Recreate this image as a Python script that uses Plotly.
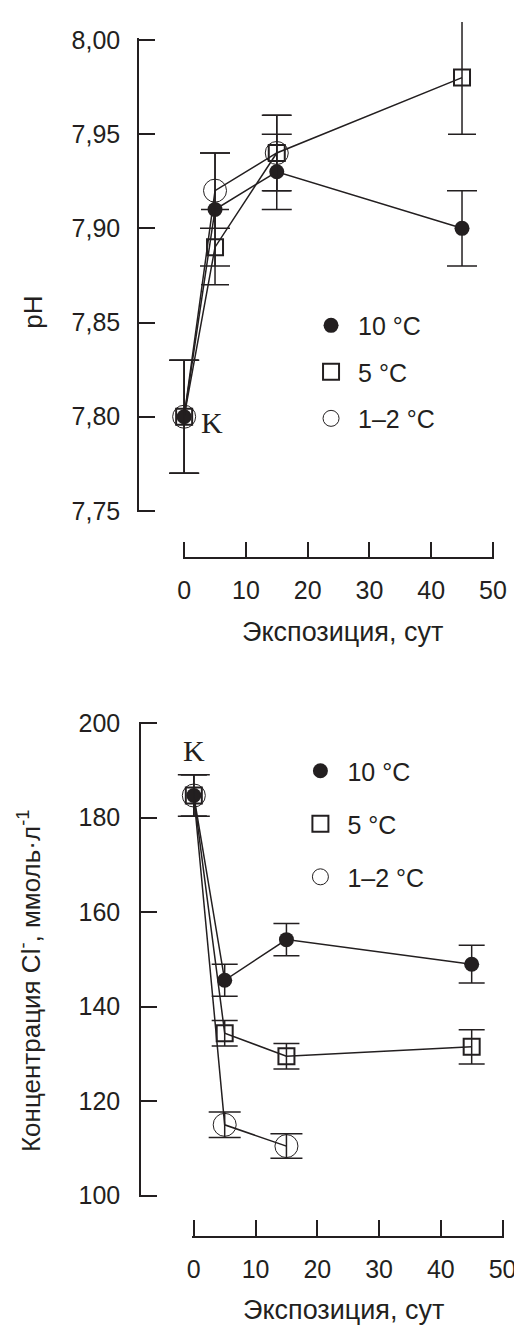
import plotly.graph_objects as go

# ---------------- data ----------------
days = [0, 5, 15, 45]
days_cold = [0, 5, 15]

ph_10 = [7.80, 7.91, 7.93, 7.90]
ph_10_err = [0.03, 0.03, 0.02, 0.02]
ph_5 = [7.80, 7.89, 7.94, 7.98]
ph_5_err = [0.03, 0.02, 0.02, 0.03]
ph_1 = [7.80, 7.92, 7.94]
ph_1_err = [0.03, 0.02, 0.02]

cl_10 = [184.7, 145.6, 154.2, 149.0]
cl_10_err = [4.4, 3.4, 3.4, 4.0]
cl_5 = [184.7, 134.4, 129.5, 131.5]
cl_5_err = [4.4, 2.7, 2.7, 3.6]
cl_1 = [184.7, 115.0, 110.5]
cl_1_err = [4.4, 2.7, 2.6]

series_names = ["10 °C", "5 °C", "1–2 °C"]
x_ticks = [0, 10, 20, 30, 40, 50]
ph_ticks = [7.75, 7.80, 7.85, 7.90, 7.95, 8.00]
cl_ticks = [100, 120, 140, 160, 180, 200]

x_title = "Экспозиция, сут"
ph_title = "pH"
cl_title = "Концентрация Cl<sup>-</sup>, ммоль·л<sup>-1</sup>"
control_label = "K"

# ---------------- styles / layout geometry ----------------
INK = "#231f20"
SANS = "Liberation Sans, Arial, sans-serif"
SERIF = "Liberation Serif, Times New Roman, serif"
OFF = 8                      # default page body margin
W, H = 522 - OFF, 1338 - OFF


def px(x):
    return (x - OFF) / W


def py(y):
    return 1 - (y - OFF) / H


def extend(r0, r1, p0, p1, q0, q1):
    """axis range [r0,r1] shown over pixels p0..p1 -> range over pixels q0..q1"""
    k = (r1 - r0) / (p1 - p0)
    return [r0 + (q0 - p0) * k, r0 + (q1 - p0) * k]


# axis frames (page pixels): value ends of each axis
TOP_X = (185, 504.3)
TOP_Y = (507.3, 27.3)        # bottom, top
BOT_X = (195, 514.3)
BOT_Y = (1205.2, 723.7)
E = 1.6                      # tiny overhang so end ticks are kept
# larger invisible data frames so that caps/markers are not clipped
TOP_DX = (140, 521)
TOP_DY = (545, 9)
BOT_DX = (145, 521)
BOT_DY = (1235, 690)

styles = [
    dict(symbol="circle", size=15, color=INK, line=dict(width=0, color=INK)),
    dict(symbol="square-open", size=16, color=INK, line=dict(width=2, color=INK)),
    dict(symbol="circle-open", size=23, color=INK, line=dict(width=1, color=INK)),
]

fig = go.Figure()


def add_series(xs, ys, errs, st, name, xa, ya, legend, capw):
    fig.add_trace(go.Scatter(
        x=xs, y=ys, mode="lines", line=dict(color=INK, width=1.5),
        xaxis=xa, yaxis=ya, showlegend=False, hoverinfo="skip"))
    fig.add_trace(go.Scatter(
        x=xs, y=ys, mode="markers", marker=st, name=name,
        error_y=dict(type="data", array=errs, visible=True, color=INK,
                     thickness=1.5, width=capw),
        xaxis=xa, yaxis=ya, legend=legend, legendgroup=legend + name,
        cliponaxis=False))


# empty traces that carry the visible axis frames (drawn first, underneath)
fig.add_trace(go.Scatter(x=[], y=[], xaxis="x", yaxis="y", showlegend=False, hoverinfo="skip"))
fig.add_trace(go.Scatter(x=[], y=[], xaxis="x2", yaxis="y2", showlegend=False, hoverinfo="skip"))

add_series(days, ph_10, ph_10_err, styles[0], series_names[0], "x3", "y3", "legend", 15)
add_series(days, ph_5, ph_5_err, styles[1], series_names[1], "x3", "y3", "legend", 14)
add_series(days_cold, ph_1, ph_1_err, styles[2], series_names[2], "x3", "y3", "legend", 15)

add_series(days, cl_10, cl_10_err, styles[0], series_names[0], "x4", "y4", "legend2", 13)
add_series(days, cl_5, cl_5_err, styles[1], series_names[1], "x4", "y4", "legend2", 13)
add_series(days_cold, cl_1, cl_1_err, styles[2], series_names[2], "x4", "y4", "legend2", 16)

axis_common = dict(showline=True, linecolor=INK, linewidth=1.5, ticks="inside",
                   ticklen=16, tickwidth=1.5, tickcolor=INK, showgrid=False,
                   zeroline=False, tickfont=dict(family=SANS, size=25, color=INK))
hidden = dict(visible=False, showgrid=False, zeroline=False)

fig.update_layout(
    width=W, height=H, margin=dict(l=0, r=0, t=0, b=0),
    paper_bgcolor="white", plot_bgcolor="rgba(0,0,0,0)", separators=", ",
    font=dict(family=SANS, color=INK), hovermode=False,
    # visible frames
    xaxis=dict(domain=[px(TOP_X[0] - E), px(TOP_X[1] + E)],
               range=extend(0, 50, TOP_X[0], TOP_X[1], TOP_X[0] - E, TOP_X[1] + E),
               tickvals=x_ticks, anchor="free", position=py(555.7),
               ticklabelstandoff=10, **axis_common),
    yaxis=dict(domain=[py(TOP_Y[0] + E), py(TOP_Y[1] - E)],
               range=extend(7.75, 8.00, TOP_Y[0], TOP_Y[1], TOP_Y[0] + E, TOP_Y[1] - E),
               tickvals=ph_ticks, tickformat=".2f", anchor="free", position=px(137.3),
               ticklabelstandoff=12, **axis_common),
    xaxis2=dict(domain=[px(BOT_X[0] - E), px(BOT_X[1] + E)],
                range=extend(0, 50, BOT_X[0], BOT_X[1], BOT_X[0] - E, BOT_X[1] + E),
                tickvals=x_ticks, anchor="free", position=py(1247.3),
                ticklabelstandoff=10, **axis_common),
    yaxis2=dict(domain=[py(BOT_Y[0] + E), py(BOT_Y[1] - E)],
                range=extend(100, 200, BOT_Y[0], BOT_Y[1], BOT_Y[0] + E, BOT_Y[1] - E),
                tickvals=cl_ticks, anchor="free", position=px(139.3),
                ticklabelstandoff=14, **axis_common),
    # data frames
    xaxis3=dict(domain=[px(TOP_DX[0]), px(TOP_DX[1])],
                range=extend(0, 50, TOP_X[0], TOP_X[1], TOP_DX[0], TOP_DX[1]),
                anchor="y3", **hidden),
    yaxis3=dict(domain=[py(TOP_DY[0]), py(TOP_DY[1])],
                range=extend(7.75, 8.00, TOP_Y[0], TOP_Y[1], TOP_DY[0], TOP_DY[1]),
                anchor="x3", **hidden),
    xaxis4=dict(domain=[px(BOT_DX[0]), px(BOT_DX[1])],
                range=extend(0, 50, BOT_X[0], BOT_X[1], BOT_DX[0], BOT_DX[1]),
                anchor="y4", **hidden),
    yaxis4=dict(domain=[py(BOT_DY[0]), py(BOT_DY[1])],
                range=extend(100, 200, BOT_Y[0], BOT_Y[1], BOT_DY[0], BOT_DY[1]),
                anchor="x4", **hidden),
    legend=dict(x=px(309), y=py(295), xanchor="left", yanchor="top",
                font=dict(family=SANS, size=25, color=INK), itemwidth=44,
                traceorder="grouped", tracegroupgap=11, bgcolor="rgba(0,0,0,0)"),
    legend2=dict(x=px(298), y=py(749), xanchor="left", yanchor="top",
                 font=dict(family=SANS, size=25, color=INK), itemwidth=44,
                 traceorder="grouped", tracegroupgap=17.5, bgcolor="rgba(0,0,0,0)"),
)

ann_font = dict(family=SANS, size=27, color=INK)
fig.add_annotation(text=x_title, x=px(349), y=py(630.7), xref="paper", yref="paper",
                   xanchor="center", yanchor="middle", showarrow=False, font=ann_font)
fig.add_annotation(text=x_title, x=px(350), y=py(1321.7), xref="paper", yref="paper",
                   xanchor="center", yanchor="middle", showarrow=False, font=ann_font)
fig.add_annotation(text=ph_title, x=px(29), y=py(305), xref="paper", yref="paper",
                   xanchor="center", yanchor="middle", showarrow=False, textangle=-90,
                   font=dict(family=SANS, size=26, color=INK))
fig.add_annotation(text=cl_title, x=px(25), y=py(986), xref="paper", yref="paper",
                   xanchor="center", yanchor="middle", showarrow=False, textangle=-90,
                   font=dict(family=SANS, size=26, color=INK))
fig.add_annotation(text=control_label, x=4.5, y=7.797, xref="x3", yref="y3",
                   xanchor="center", yanchor="middle", showarrow=False,
                   font=dict(family=SERIF, size=30, color=INK))
fig.add_annotation(text=control_label, x=0, y=194.2, xref="x4", yref="y4",
                   xanchor="center", yanchor="middle", showarrow=False,
                   font=dict(family=SERIF, size=30, color=INK))

fig.write_html("out.html")
